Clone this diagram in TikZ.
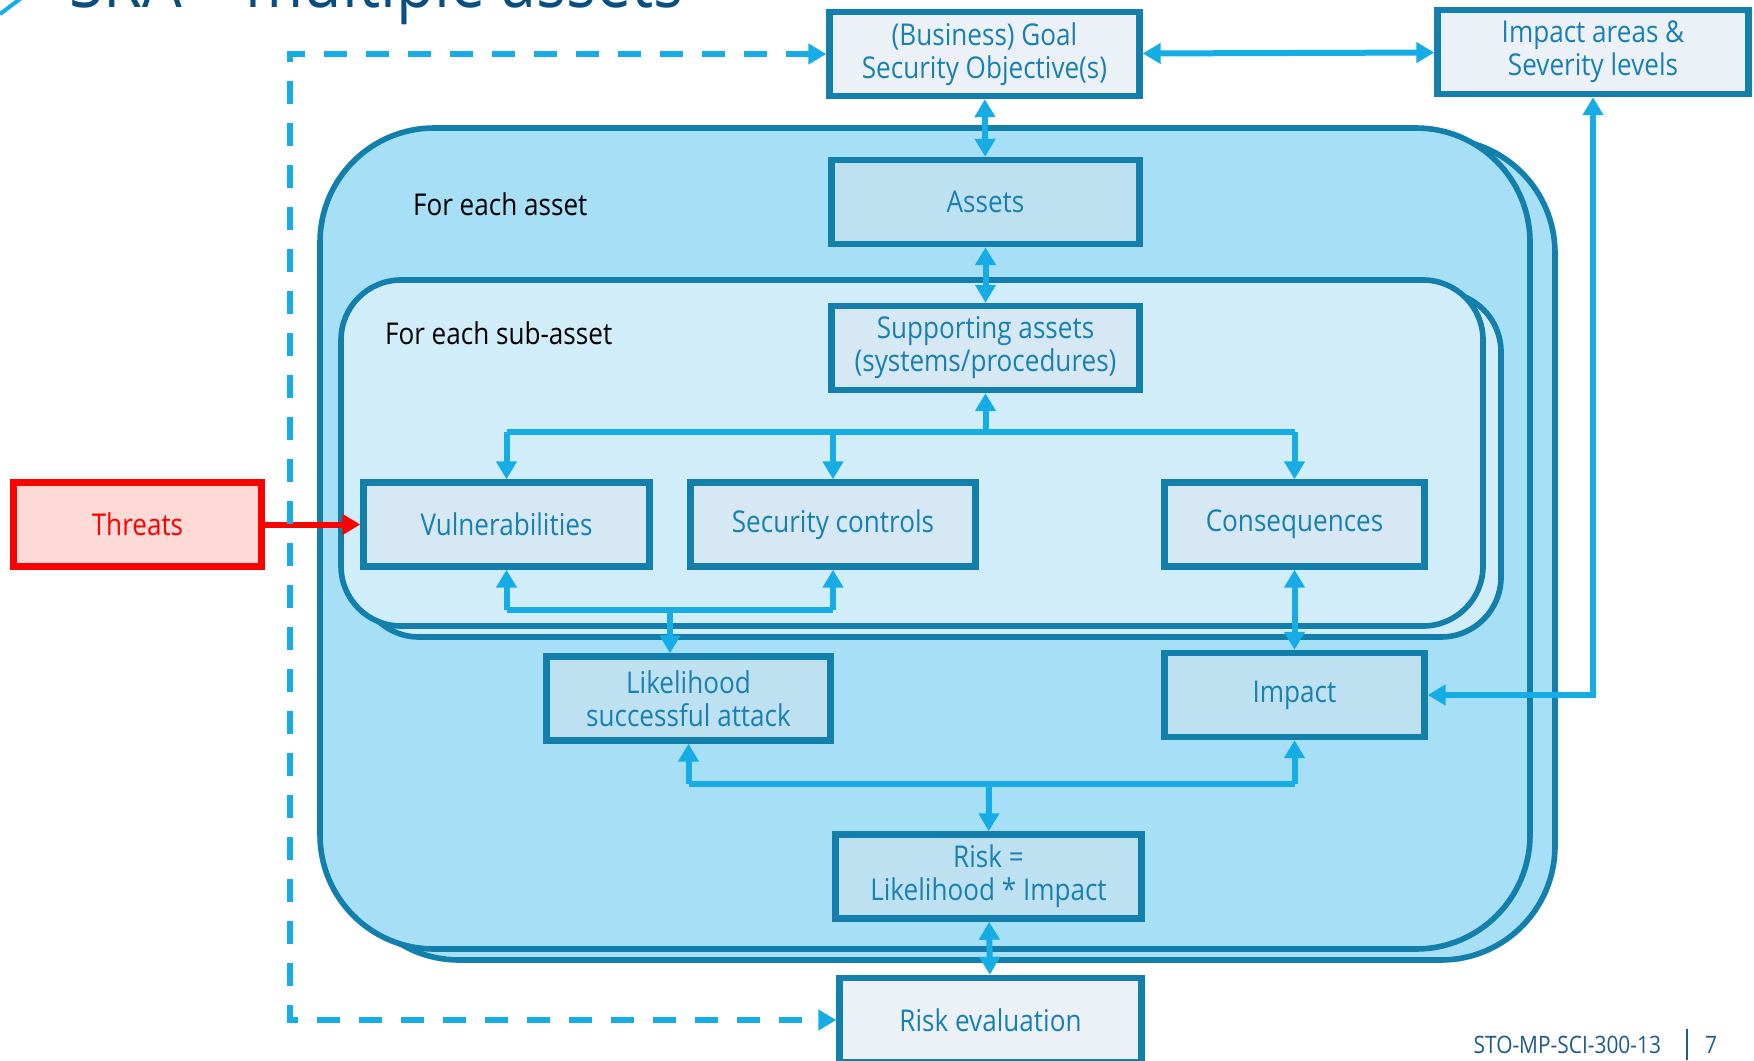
\documentclass[tikz,border=0pt]{standalone}
\usepackage{fontspec}
\setmainfont{Open Sans}[FakeStretch=0.87]
\usetikzlibrary{arrows.meta}
\definecolor{boxline}{RGB}{18,127,172}
\definecolor{boxtext}{RGB}{24,128,178}
\definecolor{linkblue}{RGB}{22,172,230}
\definecolor{outerfill}{RGB}{166,223,246}
\definecolor{innerfill}{RGB}{209,237,249}
\definecolor{palefill}{RGB}{236,241,248}
\definecolor{softfill}{RGB}{213,232,244}
\definecolor{midfill}{RGB}{190,225,242}
\definecolor{threatfill}{RGB}{253,218,213}
\definecolor{titleblue}{RGB}{8,78,128}
\definecolor{footblue}{RGB}{30,90,140}
\tikzset{wide/.style={minimum width=#1*.5pt}}

\begin{document}
\begin{tikzpicture}[x=.5pt,y=-.5pt,font=\fontsize{15}{16.5}\selectfont,>={Triangle[length=9pt,width=10pt]}]
% Styles for regions, boxes and links
\tikzstyle{region}=[draw=boxline,line width=2.8pt,rounded corners=57pt];
\tikzstyle{subregion}=[draw=boxline,line width=2.8pt,rounded corners=30pt];
\tikzstyle{box}=[rectangle,draw=boxline,line width=3.2pt,text=boxtext,align=center,minimum height=42pt,inner sep=2pt];
\tikzstyle{threat box}=[box,draw=red,fill=threatfill,text=red];
\tikzstyle{link}=[draw=linkblue,line width=3pt];
\tikzstyle{feedback}=[link,dash pattern=on 11.5pt off 9.5pt];
\useasboundingbox (0,0) rectangle (1754,1060);
% Slide title and footer
\draw[linkblue,line width=2pt] (0,14) -- (24,-4);
\node(title)[anchor=base west,text=titleblue,font=\fontsize{36}{40}\selectfont] at (62,8) {SRA -- multiple assets};
\node(foot)[anchor=east,text=footblue,font=\fontsize{12}{14}\selectfont] at (1668,1045) {STO-MP-SCI-300-13};
\node(page)[text=footblue,font=\fontsize{12}{14}\selectfont] at (1711,1045) {7};
\draw[footblue,line width=.7pt] (1687,1029) -- (1687,1060);
% The two stacked regions
\draw[region,fill=outerfill] (345,139) rectangle (1555,960);
\draw[region,fill=outerfill] (320,128) rectangle (1530,949);
\draw[subregion,fill=innerfill] (359,292) rectangle (1501,637);
\draw[subregion,fill=innerfill] (341,280) rectangle (1483,626);
\node(asset label)[anchor=west] at (406,204) {For each asset};
\node(sub label)[anchor=west] at (378,333) {For each sub-asset};
% The boxes
\node(goal)[box,fill=palefill,wide=310] at (984.5,54) {(Business) Goal\\Security Objective(s)};
\node(areas)[box,fill=palefill,wide=311] at (1593,52) {Impact areas \&\\Severity levels};
\node(assets)[box,fill=midfill,wide=308] at (985.5,202) {Assets};
\node(support)[box,fill=softfill,wide=308] at (985.5,348) {Supporting assets\\(systems/procedures)};
\node(vuln)[box,fill=softfill,wide=286] at (506.5,524.5) {Vulnerabilities};
\node(sec)[box,fill=softfill,wide=285] at (833,524.5) {Security controls};
\node(cons)[box,fill=softfill,wide=260] at (1294.5,524.5) {Consequences};
\node(threats)[threat box,wide=248] at (137.5,524.5) {Threats};
\node(like)[box,fill=midfill,wide=284] at (688.5,698.5) {Likelihood\\successful attack};
\node(impact)[box,fill=midfill,wide=260] at (1294.5,695) {Impact};
\node(risk)[box,fill=midfill,wide=306] at (988.5,876.5) {Risk =\\Likelihood * Impact};
\node(evalr)[box,fill=palefill,wide=302] at (990.5,1020) {Risk evaluation};
% Bus lines
\coordinate(topbus) at (0,432);
\coordinate(midbus) at (670,610);
\coordinate(lowbus) at (989,784);
\coordinate(dashcol) at (290,0);
% Links
\draw[link,<->] (goal) -- (areas);
\draw[link,<->] (goal) -- (assets);
\draw[link,<->] (assets) -- (support);
\draw[link,<-] (support) -- (support |- topbus);
\draw[link] (vuln |- topbus) -- (cons |- topbus);
\foreach \n in {vuln,sec,cons}
\draw[link,->] (\n |- topbus) -- (\n);
\draw[link] (vuln |- midbus) -- (sec |- midbus);
\foreach \n in {vuln,sec}
\draw[link,->] (\n |- midbus) -- (\n);
\draw[link,->] (midbus) -- (midbus |- like.north);
\draw[link,<->] (cons) -- (impact);
\draw[link,<->] (impact) -| (areas);
\draw[link] (like |- lowbus) -- (impact |- lowbus);
\foreach \n in {like,impact}
\draw[link,->] (\n |- lowbus) -- (\n);
\draw[link,->] (lowbus) -- (risk);
\draw[link,<->] (risk) -- (evalr);
\draw[red,line width=3pt,->] (threats) -- (vuln);
\draw[feedback,<->] (goal.west) -- (goal.west -| dashcol) -- (evalr.west -| dashcol) -- (evalr.west);
\end{tikzpicture}
\end{document}
